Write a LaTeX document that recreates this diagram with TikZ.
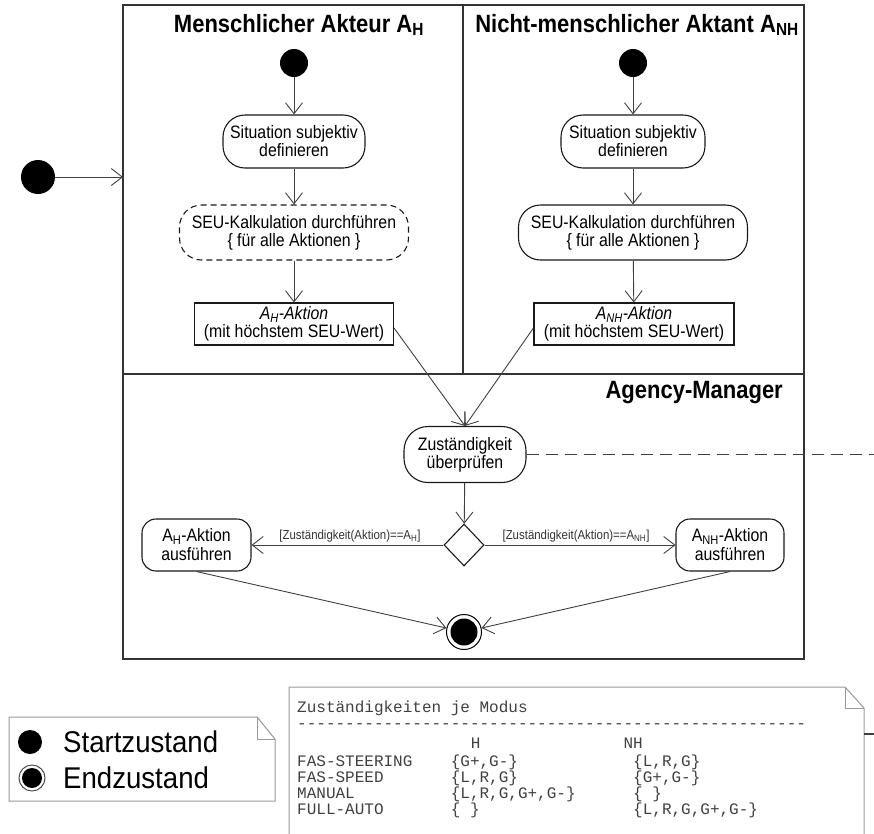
\documentclass[tikz,border=0pt]{standalone}
\usepackage{fontspec}
\setmainfont[FakeStretch=0.88]{Liberation Sans}
\newfontfamily\legendfont[FakeStretch=0.92]{Liberation Sans}
\newfontfamily\codefont[Ligatures=TeXOff]{Liberation Mono}
\usetikzlibrary{arrows.meta,shapes.geometric}
\begin{document}
\begin{tikzpicture}[x=1pt,y=-1pt,
  frame/.style={draw=black!80,line width=1.3pt},
  lanetitle/.style={font=\fontsize{25}{28}\selectfont\bfseries,inner sep=0pt},
  startst/.style={circle,fill=black,inner sep=0pt},
  roundbox/.style={draw=black!90,line width=1.1pt,rounded corners=22pt,align=center,inner sep=0pt,
    font=\fontsize{18}{18}\selectfont},
  rectbox/.style={draw=black!90,line width=1.1pt,align=center,inner sep=0pt,
    font=\fontsize{18}{18}\selectfont},
  actbox/.style={draw=black!90,line width=1.1pt,rounded corners=14pt,align=center,inner sep=0pt,
    font=\fontsize{18}{19}\selectfont},
  conn/.style={draw=black!75,line width=0.9pt,-{Straight Barb[length=11pt,width=17pt,line width=0.9pt]}},
  guard/.style={font=\fontsize{13}{14}\selectfont,text=black!80,inner sep=0pt},
  dashline/.style={draw=black!75,line width=1.8pt,dash pattern=on 12pt off 7pt},
  notebox/.style={draw=black!40,line width=1pt},
  legtext/.style={font=\legendfont\fontsize{30}{32}\selectfont,anchor=west,inner sep=0pt},
  code/.style={font=\codefont\fontsize{16}{16}\selectfont,text=black!75,anchor=base west,inner sep=0pt}
]
\useasboundingbox (0,0) rectangle (874,833);

% swimlane frame
\draw[frame] (123,5) rectangle (804,659);
\draw[frame] (463,5) -- (463,374);
\draw[frame] (123,374) -- (804,374);

\node[lanetitle] (tH) at (299,25) {Menschlicher Akteur A\textsubscript{H}};
\node[lanetitle] (tNH) at (637,25) {Nicht-menschlicher Aktant A\textsubscript{NH}};
\node[lanetitle,anchor=east] (tAM) at (783,393) {Agency-Manager};

% outer start
\node[startst,minimum size=34pt] (s0) at (38,177) {};
\coordinate (fin) at (123,177);

% left lane
\node[startst,minimum size=28pt] (s1) at (294,63) {};
\node[roundbox,minimum width=142pt,minimum height=53pt] (sit1) at (294,141.5) {Situation subjektiv\\definieren};
\node[roundbox,dash pattern=on 6pt off 4pt,minimum width=229pt,minimum height=55pt] (seu1) at (294,232.5)
  {SEU-Kalkulation durchführen\\\{ für alle Aktionen \}};
\node[rectbox,minimum width=199pt,minimum height=42pt] (a1) at (294,324)
  {\textit{A\textsubscript{H}-Aktion}\\(mit höchstem SEU-Wert)};

% right lane
\node[startst,minimum size=28pt] (s2) at (633,63) {};
\node[roundbox,minimum width=144pt,minimum height=53pt] (sit2) at (633,141.5) {Situation subjektiv\\definieren};
\node[roundbox,minimum width=229pt,minimum height=55pt] (seu2) at (633,232.5)
  {SEU-Kalkulation durchführen\\\{ für alle Aktionen \}};
\node[rectbox,minimum width=200pt,minimum height=42pt] (a2) at (634,324)
  {\textit{A\textsubscript{NH}-Aktion}\\(mit höchstem SEU-Wert)};

% agency manager
\node[roundbox,rounded corners=24pt,minimum width=122pt,minimum height=56pt] (zust) at (465,454.5)
  {Zuständigkeit\\überprüfen};
\node[diamond,draw=black!90,line width=1.1pt,minimum width=40pt,minimum height=42pt,inner sep=0pt] (dec) at (464,545) {};
\node[actbox,minimum width=109pt,minimum height=52pt] (ah) at (196.5,545) {A\textsubscript{H}-Aktion\\ausführen};
\node[actbox,minimum width=108pt,minimum height=52pt] (anh) at (730,545) {A\textsubscript{NH}-Aktion\\ausführen};
\node[guard] (g1) at (350,536) {[Zuständigkeit(Aktion)==A\textsubscript{H}]};
\node[guard] (g2) at (576,536) {[Zuständigkeit(Aktion)==A\textsubscript{NH}]};
\node[circle,draw=black,line width=1pt,fill=white,minimum size=35pt,inner sep=0pt] (end) at (464,632) {};
\node[circle,fill=black,minimum size=27pt,inner sep=0pt] (endin) at (464,632) {};

% connectors
\draw[conn] (s0) -- (fin);
\draw[conn] (s1) -- (sit1);
\draw[conn] (sit1) -- (seu1);
\draw[conn] (seu1) -- (a1);
\draw[conn] (s2) -- (sit2);
\draw[conn] (sit2) -- (seu2);
\draw[conn] (seu2) -- (a2);
\draw[conn] ([yshift=-4pt]a1.east) -- (zust.north);
\draw[conn] ([yshift=-4pt]a2.west) -- (zust.north);
\draw[conn] (zust) -- (dec);
\draw[conn] (dec) -- (ah);
\draw[conn] (dec) -- (anh);
\draw[conn] (ah.south) -- (end);
\draw[conn] (anh.south) -- (end);
\coordinate (dR) at (874,454.5);
\draw[dashline] (zust) -- (dR);

% legend note
\draw[notebox] (9,717) -- (257,717) -- (275,739) -- (275,801) -- (9,801) -- cycle;
\draw[notebox] (257,717) -- (257,739) -- (275,739);
\node[startst,minimum size=24pt] (ls) at (30,742) {};
\node[circle,draw=black!70,line width=1pt,minimum size=26pt,inner sep=0pt] (le) at (32,778) {};
\node[startst,minimum size=20pt] (lein) at (32,778) {};
\node[legtext] (lst) at (63,742) {Startzustand};
\node[legtext] (len) at (63,778) {Endzustand};

% code note
\draw[notebox] (289,834) -- (289,687) -- (845,687) -- (864,708) -- (864,834);
\draw[notebox] (845,687) -- (845,708) -- (864,708);
\coordinate (nR) at (864,734);
\coordinate (nR2) at (874,734);
\draw[dashline] (nR) -- (nR2);

\node[code] (c0) at (297,712) {Zuständigkeiten je Modus};
\node[code] (c1) at (297,728) {-----------------------------------------------------};
\node[code] (cH) at (470.6,748) {H};
\node[code] (cNH) at (623.4,748) {NH};
\node[code] (r1) at (297,766) {FAS-STEERING};
\node[code] (r1h) at (450.6,766) {\{G+,G-\}};
\node[code] (r1n) at (633,766) {\{L,R,G\}};
\node[code] (r2) at (297,782) {FAS-SPEED};
\node[code] (r2h) at (450.6,782) {\{L,R,G\}};
\node[code] (r2n) at (633,782) {\{G+,G-\}};
\node[code] (r3) at (297,798) {MANUAL};
\node[code] (r3h) at (450.6,798) {\{L,R,G,G+,G-\}};
\node[code] (r3n) at (633,798) {\{ \}};
\node[code] (r4) at (297,814) {FULL-AUTO};
\node[code] (r4h) at (450.6,814) {\{ \}};
\node[code] (r4n) at (633,814) {\{L,R,G,G+,G-\}};
\end{tikzpicture}
\end{document}
